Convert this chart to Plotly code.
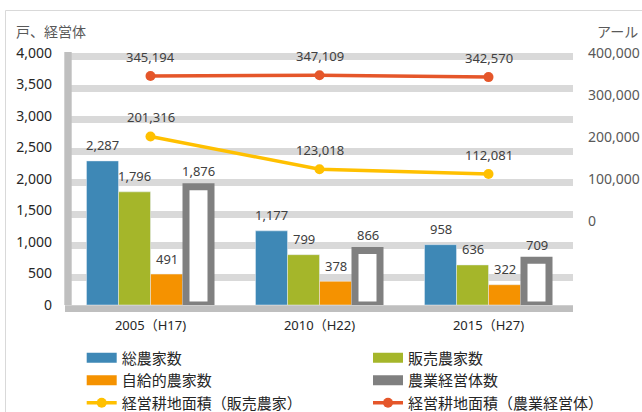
import plotly.graph_objects as go

# ---------------- data ----------------
categories = ["2005（H17)", "2010（H22)", "2015（H27)"]
total_farms = [2287, 1177, 958]          # 総農家数
commercial_farms = [1796, 799, 636]      # 販売農家数
self_sufficient = [491, 378, 322]        # 自給的農家数
mgmt_entities = [1876, 866, 709]         # 農業経営体数
area_commercial = [201316, 123018, 112081]   # 経営耕地面積（販売農家）
area_entities = [345194, 347109, 342570]     # 経営耕地面積（農業経営体）

left_ticks = [0, 500, 1000, 1500, 2000, 2500, 3000, 3500, 4000]
right_ticks = [0, 100000, 200000, 300000, 400000]

FONT = "Noto Sans, Noto Sans CJK JP, sans-serif"
LBL = "#404040"
C_BLUE, C_GREEN, C_ORANGE, C_GRAY = "#3E88B6", "#A5B62A", "#F59200", "#808080"
C_YELLOW, C_RED = "#FFC000", "#E5562A"

W, H = 642, 412
ML, MR, MT, MB = 66, 69, 53, 107
PW, PH = W - ML - MR, H - MT - MB


def px_x(p):
    return (p - ML) / PW


def px_y(p):
    return (H - MB - p) / PH


SLOT = 32 / 169  # one bar slot in category units

fig = go.Figure()
fig.add_bar(x=categories, y=total_farms, name="総農家数", marker_color=C_BLUE,
            showlegend=False)
fig.add_bar(x=categories, y=commercial_farms, name="販売農家数", marker_color=C_GREEN,
            showlegend=False)
fig.add_bar(x=categories, y=self_sufficient, name="自給的農家数", marker_color=C_ORANGE,
            showlegend=False)
fig.add_bar(x=categories, y=mgmt_entities, name="農業経営体数",
            marker=dict(color="white", line=dict(color=C_GRAY, width=7)),
            width=25 / 169, showlegend=False)
fig.add_scatter(x=categories, y=area_commercial, name="経営耕地面積（販売農家）",
                yaxis="y2", mode="lines+markers", showlegend=False,
                line=dict(color=C_YELLOW, width=3.5), marker=dict(size=10, color=C_YELLOW))
fig.add_scatter(x=categories, y=area_entities, name="経営耕地面積（農業経営体）",
                yaxis="y2", mode="lines+markers", showlegend=False,
                line=dict(color=C_RED, width=3.5), marker=dict(size=10, color=C_RED))
# invisible helper trace for the grid axis
fig.add_scatter(x=[], y=[], yaxis="y3", showlegend=False, hoverinfo="skip")

# legend entries (Excel-style wide swatches)
legend_items = [
    ("総農家数", C_BLUE, "bar", "legend"),
    ("販売農家数", C_GREEN, "bar", "legend2"),
    ("自給的農家数", C_ORANGE, "bar", "legend"),
    ("農業経営体数", C_GRAY, "bar", "legend2"),
    ("経営耕地面積（販売農家）", C_YELLOW, "line", "legend"),
    ("経営耕地面積（農業経営体）", C_RED, "line", "legend2"),
]
for name, col, kind, lg in legend_items:
    if kind == "bar":
        fig.add_scatter(x=[None], y=[None], name=name, mode="lines", legend=lg,
                        line=dict(color=col, width=10), hoverinfo="skip")
    else:
        fig.add_scatter(x=[None], y=[None], name=name, mode="lines+markers", legend=lg,
                        yaxis="y2", line=dict(color=col, width=3.5),
                        marker=dict(size=10, color=col), hoverinfo="skip")

# data labels
annotations = []
bar_series = [total_farms, commercial_farms, self_sufficient, mgmt_entities]
bar_shift = [-48, -16, 16, 48]
for vals, xs in zip(bar_series, bar_shift):
    for c, v in zip(categories, vals):
        annotations.append(dict(x=c, y=v, xref="x", yref="y", text=f"{v:,}",
                                showarrow=False, xshift=xs, yshift=15.5, yanchor="middle",
                                font=dict(family=FONT, size=13, color=LBL)))
for vals in (area_commercial, area_entities):
    for c, v in zip(categories, vals):
        annotations.append(dict(x=c, y=v, xref="x", yref="y2", text=f"{v:,}",
                                showarrow=False, yshift=19, yanchor="middle",
                                font=dict(family=FONT, size=13, color=LBL)))
annotations.append(dict(x=px_x(14), y=px_y(31), xref="paper", yref="paper",
                        text="戸、経営体", showarrow=False, xanchor="left", yanchor="middle",
                        font=dict(family=FONT, size=14, color="#595959")))
annotations.append(dict(x=px_x(595), y=px_y(31), xref="paper", yref="paper",
                        text="アール", showarrow=False, xanchor="left", yanchor="middle",
                        font=dict(family=FONT, size=14, color="#595959")))

shapes = [
    # chart border
    dict(type="rect", xref="paper", yref="paper", x0=px_x(5.5), x1=px_x(700),
         y0=px_y(500), y1=px_y(10.5), line=dict(color="#D9D9D9", width=1), layer="below"),
    # left wall
    dict(type="rect", xref="paper", yref="paper", x0=px_x(64.3), x1=px_x(71.7),
         y0=px_y(305), y1=px_y(52), fillcolor="#BFBFBF", line=dict(width=0), layer="above"),
    # floor
    dict(type="rect", xref="paper", yref="paper", x0=px_x(65), x1=px_x(573),
         y0=px_y(312), y1=px_y(305.3), fillcolor="#BFBFBF", line=dict(width=0), layer="above"),
]

grid_off = 3.5 * 4000 / PH

fig.update_layout(
    width=W, height=H,
    margin=dict(l=ML, r=MR, t=MT, b=MB, autoexpand=False),
    paper_bgcolor="white", plot_bgcolor="white",
    barmode="group", bargap=1 - 4 * SLOT, bargroupgap=0,
    font=dict(family=FONT, size=13, color="#262626"),
    xaxis=dict(type="category", range=[-0.5, 2.5], showgrid=False, zeroline=False,
               showline=False, ticks="", ticklabelstandoff=11,
               tickfont=dict(family=FONT, size=13, color="#262626")),
    yaxis=dict(range=[0, 4000], tickvals=left_ticks, tickformat=",", showgrid=False,
               zeroline=False, showline=False, ticks="", ticklabelstandoff=13,
               tickfont=dict(family=FONT, size=14, color="#262626")),
    yaxis2=dict(range=[-200000, 400000], tickvals=right_ticks, tickformat=",",
                overlaying="y", side="right", showgrid=False, zeroline=False,
                showline=False, ticks="", ticklabelstandoff=14,
                tickfont=dict(family=FONT, size=14, color="#595959")),
    yaxis3=dict(range=[grid_off, 4000 + grid_off], tickvals=left_ticks, overlaying="y",
                side="left", showgrid=True, gridcolor="#D9D9D9", gridwidth=7,
                zeroline=False, showline=False, showticklabels=False, ticks=""),
    legend=dict(x=px_x(81.7), y=px_y(341.5), xanchor="left", yanchor="top",
                orientation="v", bgcolor="rgba(0,0,0,0)", borderwidth=0,
                font=dict(family=FONT, size=15, color="#262626")),
    legend2=dict(x=px_x(368), y=px_y(341.5), xanchor="left", yanchor="top",
                 orientation="v", bgcolor="rgba(0,0,0,0)", borderwidth=0,
                 font=dict(family=FONT, size=15, color="#262626")),
    annotations=annotations,
    shapes=shapes,
    hovermode=False,
)

fig.write_html("out.html")
